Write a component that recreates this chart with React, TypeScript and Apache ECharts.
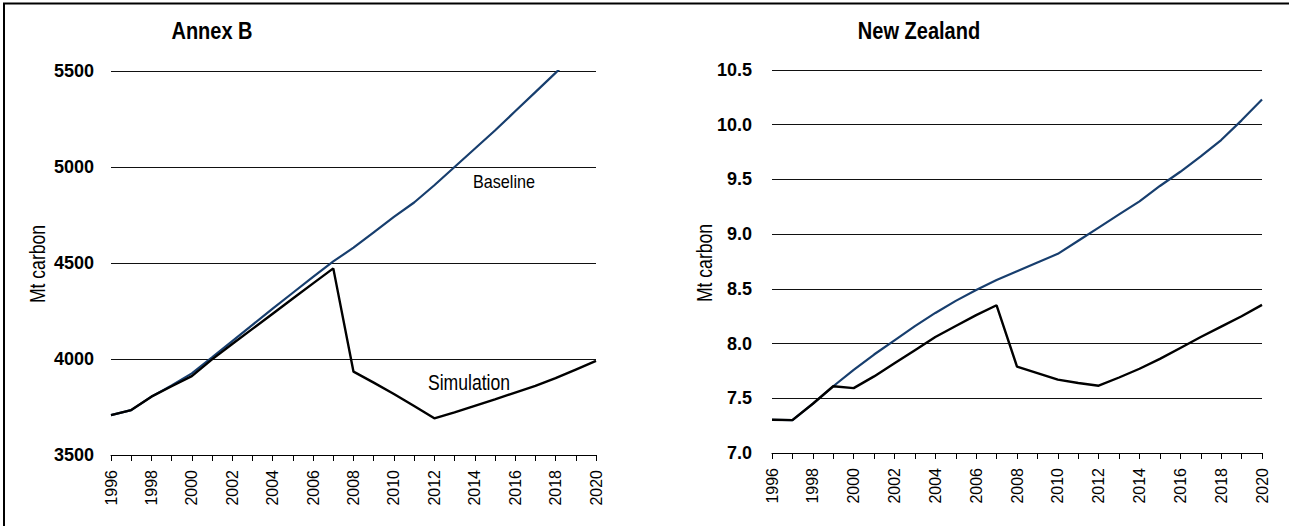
import React, { useEffect, useRef } from "react";
import * as echarts from "echarts";

const years = [
  "1996", "1997", "1998", "1999", "2000", "2001", "2002", "2003", "2004",
  "2005", "2006", "2007", "2008", "2009", "2010", "2011", "2012", "2013",
  "2014", "2015", "2016", "2017", "2018", "2019", "2020",
];

const annexBaseline = [
  3708, 3734, 3804, 3862, 3925, 4008, 4093, 4178, 4262, 4345, 4428, 4508,
  4580, 4660, 4740, 4815, 4905, 5000, 5095, 5190, 5290, 5390, 5490, 5595, 5700,
];
const annexSimulation = [
  3708, 3734, 3804, 3858, 3911, 3998, 4078, 4157, 4236, 4315, 4394, 4472,
  3934, 3877, 3818, 3755, 3691, 3722, 3756, 3790, 3825, 3860, 3900, 3945, 3990,
];

const nzBaseline = [
  7.304, 7.3, 7.45, 7.61, 7.76, 7.9, 8.03, 8.16, 8.28, 8.39, 8.49, 8.58,
  8.66, 8.74, 8.82, 8.94, 9.06, 9.18, 9.3, 9.44, 9.57, 9.71, 9.86, 10.04, 10.23,
];
const nzSimulation = [
  7.304, 7.3, 7.45, 7.61, 7.593, 7.7, 7.82, 7.94, 8.06, 8.16, 8.26, 8.35,
  7.79, 7.73, 7.67, 7.64, 7.615, 7.69, 7.77, 7.86, 7.96, 8.06, 8.155, 8.25, 8.354,
];

const annexTicks = { min: 3500, max: 5500, interval: 500 };
const nzTicks = { min: 7.0, max: 10.5, interval: 0.5 };

const titles = ["Annex B", "New Zealand"];
const yName = "Mt carbon";
const seriesLabels = ["Baseline", "Simulation"];

const ARIAL = "Liberation Sans, Arial, sans-serif";
const BLUE = "#173e6e";

export default function App() {
  const ref = useRef<HTMLDivElement>(null);
  useEffect(() => {
    document.body.style.margin = "0";
    const chart = echarts.init(ref.current!, null, { renderer: "svg" });

    const xAxisBase = (gridIndex: number) => ({
      type: "category",
      gridIndex,
      data: years,
      boundaryGap: false,
      axisLine: { show: true, lineStyle: { color: "#000", width: 1 } },
      axisTick: { show: true, length: 6, interval: 0, lineStyle: { color: "#000" } },
      axisLabel: {
        interval: 1,
        rotate: 90,
        margin: 15,
        color: "#000",
        fontFamily: ARIAL,
        fontSize: 16,
      },
      splitLine: { show: false },
    });

    const yAxisBase = (gridIndex: number, t: any, decimals: number, margin: number) => ({
      type: "value",
      gridIndex,
      min: t.min,
      max: t.max,
      interval: t.interval,
      axisLine: { show: false },
      axisTick: { show: false },
      axisLabel: {
        color: "#000",
        fontFamily: ARIAL,
        fontWeight: "bold",
        fontSize: 18,
        margin,
        formatter: (v: number) => v.toFixed(decimals),
      },
      splitLine: { show: true, lineStyle: { color: "#111", width: 1 } },
    });

    const textStyle = (size: number, bold: boolean) => ({
      fill: "#000",
      font: `${bold ? "bold " : ""}${size}px ${ARIAL}`,
      textAlign: "center",
      textVerticalAlign: "middle",
    });

    chart.setOption({
      animation: false,
      grid: [
        { left: 111, width: 485, top: 71, height: 384, containLabel: false },
        { left: 772, width: 490, top: 70, height: 383, containLabel: false },
      ],
      xAxis: [xAxisBase(0), xAxisBase(1)],
      yAxis: [yAxisBase(0, annexTicks, 0, 17), yAxisBase(1, nzTicks, 1, 20)],
      series: [
        {
          type: "line",
          name: seriesLabels[0],
          xAxisIndex: 0,
          yAxisIndex: 0,
          data: annexBaseline,
          symbol: "none",
          clip: true,
          lineStyle: { color: BLUE, width: 2.2 },
        },
        {
          type: "line",
          name: seriesLabels[1],
          xAxisIndex: 0,
          yAxisIndex: 0,
          data: annexSimulation,
          symbol: "none",
          lineStyle: { color: "#000", width: 2.4 },
        },
        {
          type: "line",
          name: seriesLabels[0],
          xAxisIndex: 1,
          yAxisIndex: 1,
          data: nzBaseline,
          symbol: "none",
          lineStyle: { color: BLUE, width: 2.2 },
        },
        {
          type: "line",
          name: seriesLabels[1],
          xAxisIndex: 1,
          yAxisIndex: 1,
          data: nzSimulation,
          symbol: "none",
          lineStyle: { color: "#000", width: 2.4 },
        },
      ],
      graphic: [
        { type: "line", shape: { x1: 3, y1: 3.5, x2: 1289, y2: 3.5 }, style: { stroke: "#000", lineWidth: 2 } },
        { type: "line", shape: { x1: 4, y1: 3, x2: 4, y2: 526 }, style: { stroke: "#000", lineWidth: 2 } },
        { type: "text", x: 212, y: 31, scaleX: 0.87, style: { text: titles[0], ...textStyle(23, true) } },
        { type: "text", x: 919, y: 31, scaleX: 0.87, style: { text: titles[1], ...textStyle(23, true) } },
        { type: "text", x: 37, y: 264, rotation: Math.PI / 2, scaleX: 0.8, style: { text: yName, ...textStyle(22, false) } },
        { type: "text", x: 704, y: 263, rotation: Math.PI / 2, scaleX: 0.8, style: { text: yName, ...textStyle(22, false) } },
        { type: "text", x: 504, y: 182, scaleX: 0.9, style: { text: seriesLabels[0], ...textStyle(18, false) } },
        { type: "text", x: 469, y: 382, scaleX: 0.8, style: { text: seriesLabels[1], ...textStyle(22, false) } },
      ],
    });
    return () => chart.dispose();
  }, []);
  return (
    <div
      ref={ref}
      style={{ position: "absolute", left: 0, top: 0, width: 1289, height: 526 }}
    />
  );
}
